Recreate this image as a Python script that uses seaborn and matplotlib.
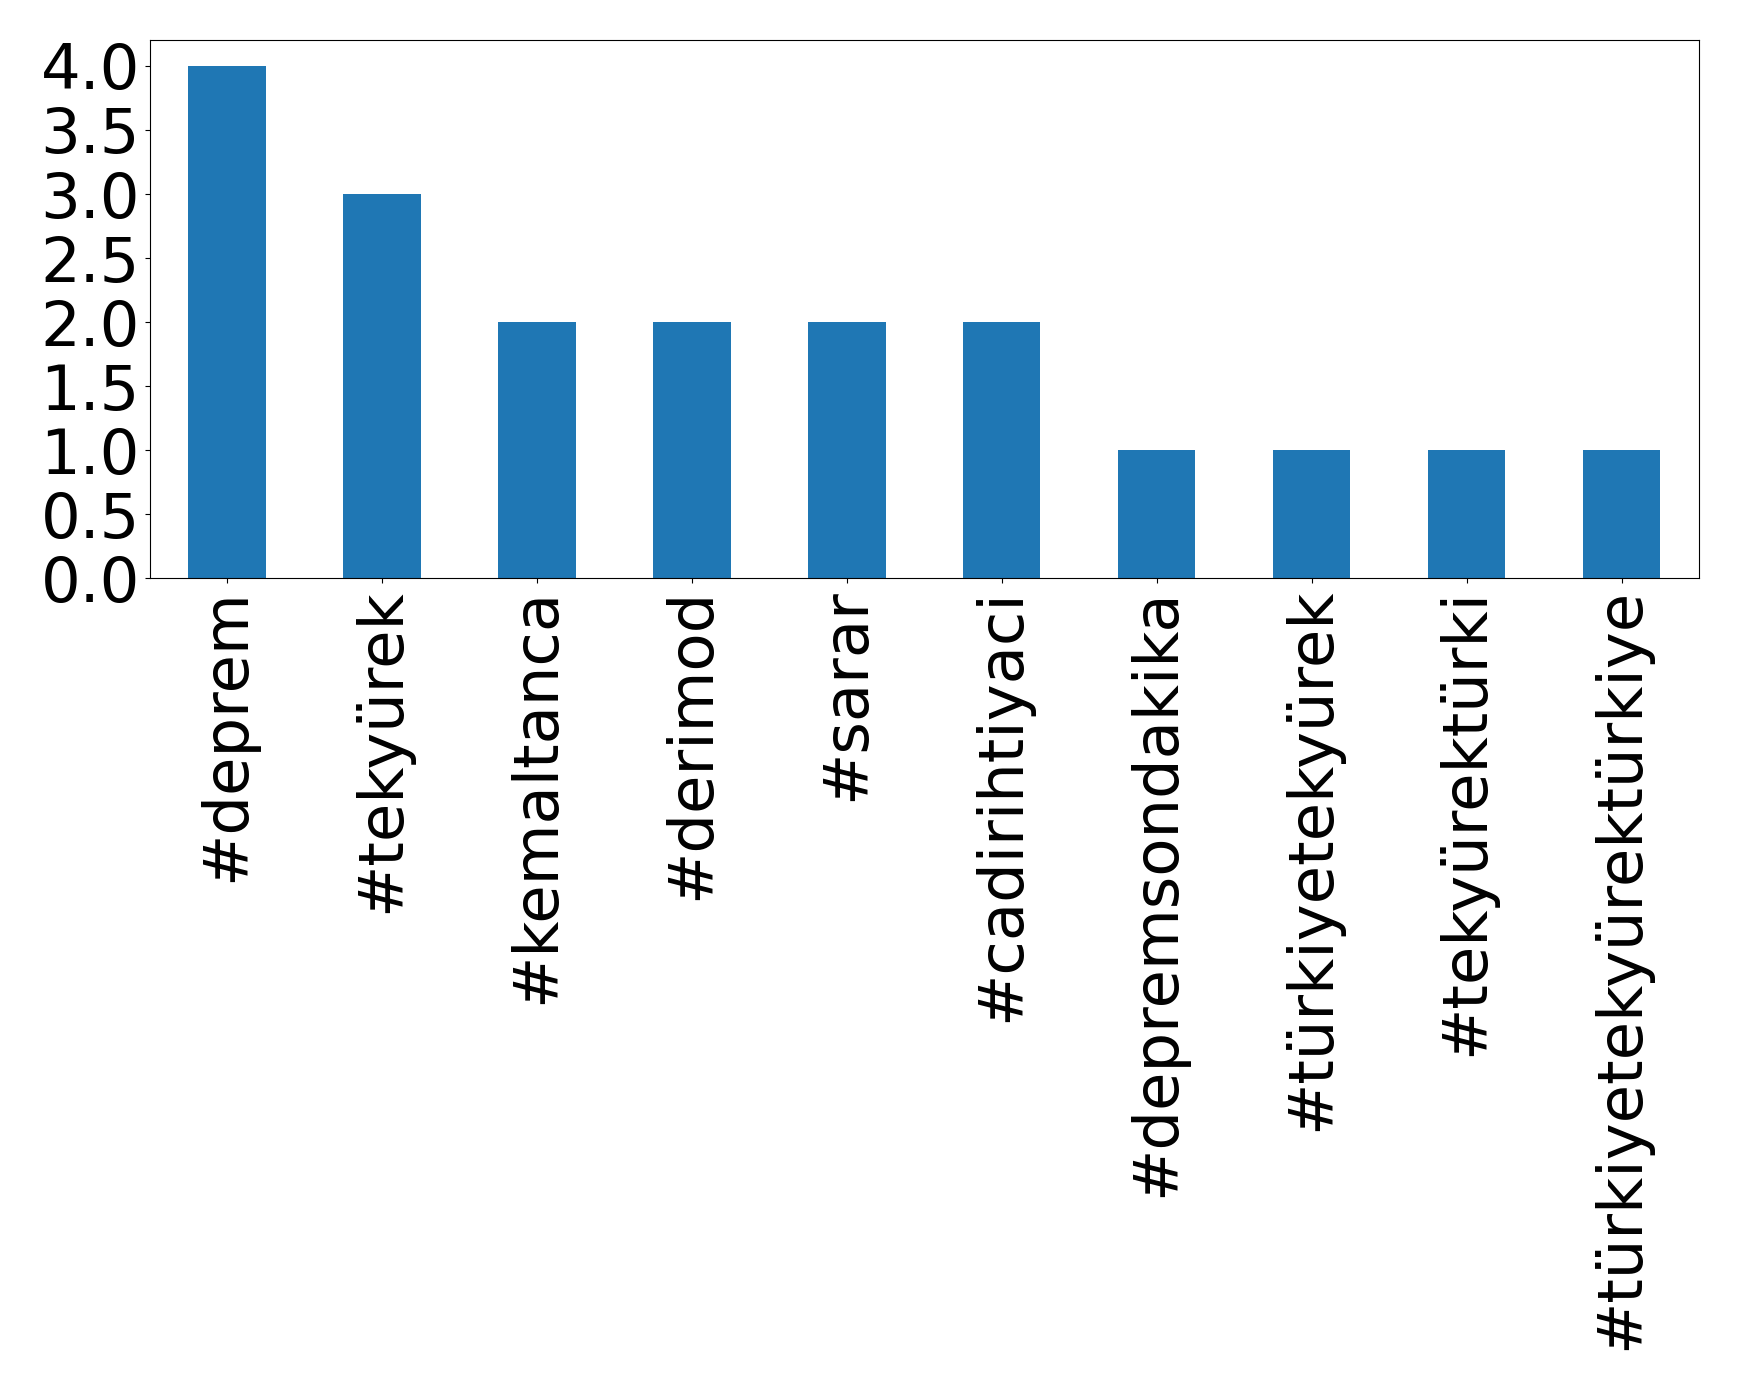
import numpy as np
import pandas as pd
import matplotlib
matplotlib.use("Agg")
import matplotlib.pyplot as plt
import seaborn as sns

# hashtag counts
hashtags = ["#deprem", "#tekyürek", "#kemaltanca", "#derimod", "#sarar",
            "#cadirihtiyaci", "#depremsondakika", "#türkiyetekyürek",
            "#tekyürektürki", "#türkiyetekyürektürkiye"]
counts = [4, 3, 2, 2, 2, 2, 1, 1, 1, 1]

df = pd.DataFrame({"hashtag": hashtags, "count": counts})

fig = plt.figure(figsize=(17.39, 13.9), dpi=100)
ax = fig.add_axes([0.086, 0.584, 0.891, 0.387])
sns.barplot(data=df, x="hashtag", y="count", color="#1f77b4", saturation=1,
            width=0.5, ax=ax)
ax.set_xlim(-0.5, len(hashtags) - 0.5)
ax.set_xlabel("")
ax.set_ylabel("")
ax.tick_params(axis="both", labelsize=45)
ax.tick_params(axis="x", labelrotation=90)
ax.set_yticks(np.arange(0, 4.01, 0.5))

fig.savefig("out.png", dpi=100)
